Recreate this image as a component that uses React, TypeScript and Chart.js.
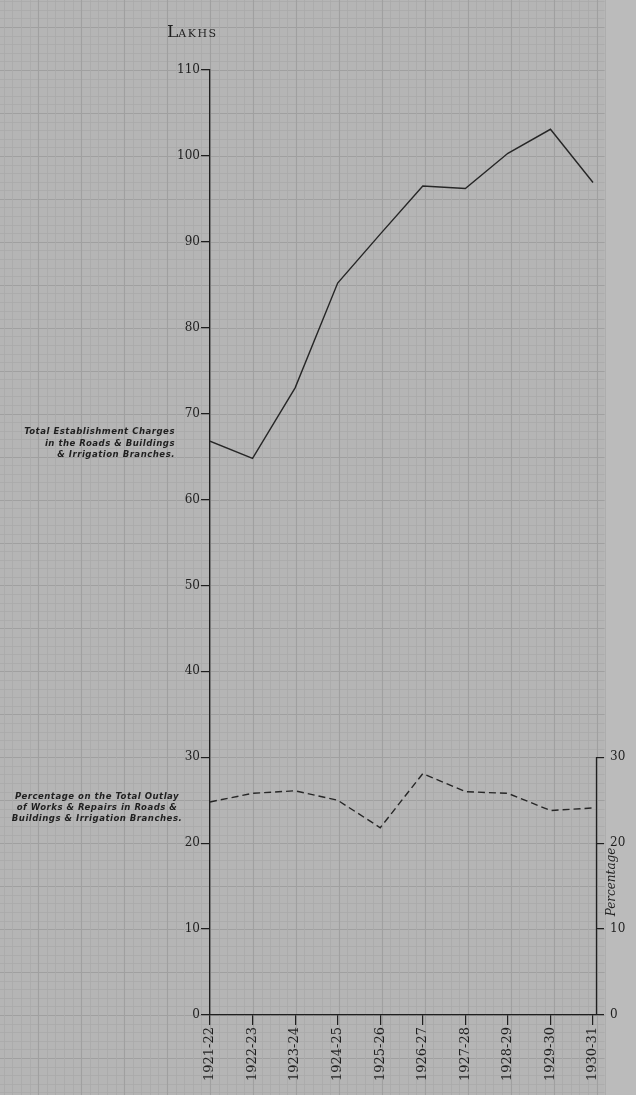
import React, { useEffect, useRef } from "react";
import { Chart, registerables } from "chart.js";

Chart.register(...registerables);

// ---- data ----
const years = ["1921-22", "1922-23", "1923-24", "1924-25", "1925-26", "1926-27", "1927-28", "1928-29", "1929-30", "1930-31"];
const establishmentCharges = [66.8, 64.8, 73.0, 85.2, 90.9, 96.5, 96.2, 100.3, 103.1, 96.9];
const percentageOutlay = [24.8, 25.8, 26.1, 25.0, 21.8, 28.1, 26.0, 25.8, 23.8, 24.1];
const leftTicks = [0, 10, 20, 30, 40, 50, 60, 70, 80, 90, 100, 110];
const rightTicks = [0, 10, 20, 30];
const unitLabel = ["L", "AKHS"];
const rightTitle = "Percentage";
const noteCharges = ["Total Establishment Charges", "in the Roads & Buildings", "& Irrigation Branches."];
const notePercentage = ["Percentage on the Total Outlay", "of Works & Repairs in Roads &", "Buildings & Irrigation Branches."];

const INK = "#1f1f1f";

const paperPlugin = {
  id: "paper",
  beforeDraw(chart: any) {
    const { ctx, width, height } = chart;
    const ys = chart.scales.y;
    const xs = chart.scales.x;
    const step = ys.getPixelForValue(0) - ys.getPixelForValue(1);
    const x0 = xs.getPixelForValue(0);
    const gridRight = xs.right + step;
    ctx.save();
    ctx.fillStyle = "#bbbbbb";
    ctx.fillRect(0, 0, width, height);
    ctx.fillStyle = "#b5b5b5";
    ctx.fillRect(0, 0, gridRight, height);
    // horizontal lines
    for (let v = -12; v <= 125; v++) {
      const y = Math.round(ys.getPixelForValue(v)) + 0.5;
      if (y < 0 || y > height) continue;
      ctx.strokeStyle = v % 5 === 0 ? "#a0a0a0" : "#aaaaaa";
      ctx.lineWidth = v % 5 === 0 ? 1.1 : 0.8;
      ctx.beginPath();
      ctx.moveTo(0, y);
      ctx.lineTo(gridRight, y);
      ctx.stroke();
    }
    // vertical lines
    for (let k = -30; k <= 60; k++) {
      const x = Math.round(x0 + k * step) + 0.5;
      if (x < 0 || x > gridRight + 1) continue;
      ctx.strokeStyle = k % 5 === 0 ? "#a0a0a0" : "#aaaaaa";
      ctx.lineWidth = k % 5 === 0 ? 1.1 : 0.8;
      ctx.beginPath();
      ctx.moveTo(x, 0);
      ctx.lineTo(x, height);
      ctx.stroke();
    }
    ctx.restore();
  },
  afterDraw(chart: any) {
    const { ctx } = chart;
    const y2 = chart.scales.y2;
    ctx.save();
    ctx.fillStyle = INK;
    ctx.strokeStyle = INK;
    // right axis line (0 - 30)
    ctx.lineWidth = 1.3;
    ctx.beginPath();
    ctx.moveTo(y2.left + 0.5, y2.getPixelForValue(rightTicks[rightTicks.length - 1]));
    ctx.lineTo(y2.left + 0.5, y2.getPixelForValue(0));
    ctx.stroke();

    // unit label (small caps)
    ctx.textBaseline = "alphabetic";
    ctx.textAlign = "left";
    ctx.font = "17px 'DejaVu Serif', serif";
    ctx.fillText(unitLabel[0], 167, 37);
    const lw = ctx.measureText(unitLabel[0]).width;
    ctx.font = "11px 'DejaVu Serif', serif";
    (ctx as any).letterSpacing = "1.5px";
    ctx.fillText(unitLabel[1], 167 + lw, 37);
    (ctx as any).letterSpacing = "0px";

    // notes
    ctx.font = "italic bold 9.5px 'DejaVu Sans Condensed', 'DejaVu Sans', sans-serif";
    (ctx as any).letterSpacing = "0.5px";
    ctx.textAlign = "right";
    noteCharges.forEach((t, i) => ctx.fillText(t, 175, 434 + i * 11.5));
    ctx.textAlign = "center";
    notePercentage.forEach((t, i) => ctx.fillText(t, 97, 799 + i * 11));
    (ctx as any).letterSpacing = "0px";

    // right title
    ctx.translate(612, 882);
    ctx.rotate(-Math.PI / 2);
    ctx.font = "italic 12px 'DejaVu Serif', serif";
    ctx.textAlign = "center";
    ctx.textBaseline = "middle";
    ctx.fillText(rightTitle, 0, 0);
    ctx.restore();
  },
};

export default function App() {
  const ref = useRef<HTMLCanvasElement | null>(null);
  useEffect(() => {
    if (!ref.current) return;
    const chart = new Chart(ref.current, {
      type: "line",
      data: {
        datasets: [
          {
            label: noteCharges.join(" "),
            data: establishmentCharges.map((v, i) => ({ x: i, y: v })),
            borderColor: "#262626",
            borderWidth: 1.4,
            pointRadius: 0,
            tension: 0,
            yAxisID: "y",
          },
          {
            label: notePercentage.join(" "),
            data: percentageOutlay.map((v, i) => ({ x: i, y: v })),
            borderColor: "#262626",
            borderWidth: 1.4,
            borderDash: [7, 4],
            pointRadius: 0,
            tension: 0,
            yAxisID: "y2",
          },
        ],
      },
      plugins: [paperPlugin],
      options: {
        responsive: false,
        animation: false,
        devicePixelRatio: 1,
        layout: { padding: { top: 70, left: 0, right: 0, bottom: 0 } },
        plugins: { legend: { display: false }, tooltip: { enabled: false }, title: { display: false } },
        scales: {
          x: {
            type: "linear",
            min: 0,
            max: 9.07,
            afterBuildTicks: (s: any) => {
              s.ticks = years.map((_, i) => ({ value: i }));
            },
            afterFit: (s: any) => {
              s.height = 80;
            },
            ticks: {
              autoSkip: false,
              minRotation: 90,
              maxRotation: 90,
              padding: 2,
              color: INK,
              font: { family: "'DejaVu Serif', serif", size: 13 },
              callback: (v: any) => years[v] ?? "",
            },
            grid: { drawOnChartArea: false, drawTicks: true, tickLength: 10, tickColor: INK, lineWidth: 1.2 },
            border: { display: true, color: INK, width: 1.3 },
          },
          y: {
            position: "left",
            min: 0,
            max: 110,
            afterBuildTicks: (s: any) => {
              s.ticks = leftTicks.map((v) => ({ value: v }));
            },
            afterFit: (s: any) => {
              s.width = 210;
            },
            ticks: {
              padding: 1,
              color: INK,
              font: { family: "'DejaVu Serif', serif", size: 12 },
            },
            grid: { drawOnChartArea: false, drawTicks: true, tickLength: 9, tickColor: INK, lineWidth: 1.2 },
            border: { display: true, color: INK, width: 1.3 },
          },
          y2: {
            position: "right",
            min: 0,
            max: 110,
            afterBuildTicks: (s: any) => {
              s.ticks = rightTicks.map((v) => ({ value: v }));
            },
            afterFit: (s: any) => {
              s.width = 40;
            },
            ticks: {
              padding: 6,
              color: INK,
              font: { family: "'DejaVu Serif', serif", size: 12 },
            },
            grid: { drawOnChartArea: false, drawTicks: true, tickLength: 8, tickColor: INK, lineWidth: 1.2 },
            border: { display: false },
          },
        },
      },
    } as any);
    return () => chart.destroy();
  }, []);
  return (
    <div style={{ position: "absolute", left: 0, top: 0, width: 636, height: 1095 }}>
      <canvas ref={ref} width={636} height={1095} style={{ display: "block", width: 636, height: 1095 }} />
    </div>
  );
}
